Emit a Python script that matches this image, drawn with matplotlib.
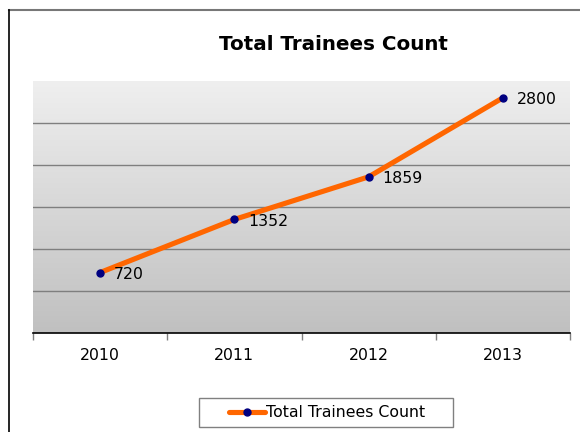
import matplotlib
matplotlib.use('Agg')
import matplotlib.pyplot as plt
import numpy as np
from matplotlib.lines import Line2D
from matplotlib.patches import Rectangle
from matplotlib.colors import LinearSegmentedColormap

years = ['2010', '2011', '2012', '2013']
trainees = [720, 1352, 1859, 2800]
series_name = 'Total Trainees Count'

fig = plt.figure(figsize=(5.8, 4.32), dpi=100)
fig.patch.set_facecolor('white')
ax = fig.add_axes([33 / 580, 1 - 333 / 432, 537 / 580, 252 / 432])

# gradient plot background, light at the top, darker at the bottom
cmap = LinearSegmentedColormap.from_list('bg', ['#c0c0c0', '#efefef'])
grad = np.linspace(0, 1, 256).reshape(-1, 1)
ax.imshow(grad, extent=[0, 1, 0, 1], transform=ax.transAxes, aspect='auto',
          cmap=cmap, origin='lower', zorder=0)

x = np.arange(len(years))
ax.plot(x, trainees, color='#ff6600', linewidth=3.7, marker='o', markersize=5,
        markerfacecolor='#000080', markeredgecolor='#000080', label=series_name,
        solid_capstyle='round', zorder=3)

for xi, v in zip(x, trainees):
    ax.annotate(str(v), (xi, v), xytext=(10, -1.5), textcoords='offset points',
                va='center', ha='left', fontsize=11.3, color='black', zorder=4)

ax.set_xlim(-0.5, len(years) - 0.5)
ax.set_ylim(0, 3000)
ax.set_yticks([500, 1000, 1500, 2000, 2500])
ax.yaxis.grid(True, color='#7f7f7f', linewidth=1)
ax.set_axisbelow(False)
ax.tick_params(axis='y', left=False, labelleft=False)
ax.set_xticks(x)
ax.set_xticklabels(years, fontsize=11.3)
ax.set_xticks(np.arange(-0.5, len(years)), minor=True)
ax.tick_params(axis='x', which='major', length=0, pad=11)
ax.tick_params(axis='x', which='minor', length=5, color='#808080', width=1)
for side in ['left', 'right', 'top']:
    ax.spines[side].set_visible(False)
ax.spines['bottom'].set_color('black')
ax.spines['bottom'].set_linewidth(1.2)
ax.spines['bottom'].set_zorder(5)

fig.text(333 / 580, 1 - 44 / 432, 'Total Trainees Count', ha='center', va='center',
         fontsize=14.3, fontweight='bold')

# legend content without its own frame; the box is drawn wider like the original
fig.legend(loc='center', bbox_to_anchor=(327 / 580, 1 - 412.5 / 432),
           fontsize=11.3, frameon=False, handlelength=2.3,
           handletextpad=0.1, borderpad=0.45, borderaxespad=0)
fig.add_artist(Rectangle((199 / 580, 1 - 427 / 432), 254 / 580, 29 / 432,
                         transform=fig.transFigure, fill=False,
                         edgecolor='#808080', linewidth=1))

# outer chart frame
fig.add_artist(Line2D([9 / 580, 1], [1 - 10 / 432, 1 - 10 / 432],
                      transform=fig.transFigure, color='#777777', linewidth=1.5))
fig.add_artist(Line2D([9 / 580, 9 / 580], [1 - 10 / 432, 0],
                      transform=fig.transFigure, color='black', linewidth=1.2))

fig.savefig('out.png', dpi=100)
